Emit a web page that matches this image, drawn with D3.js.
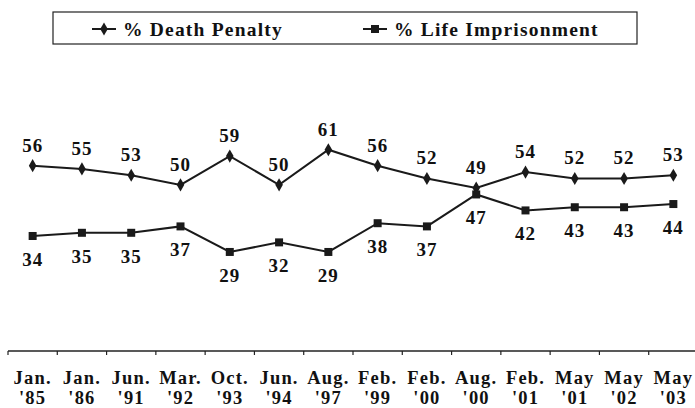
<!DOCTYPE html>
<html>
<head>
<meta charset="utf-8">
<script src="https://cdn.jsdelivr.net/npm/d3@7"></script>
<style>
  html, body { margin: 0; padding: 0; background: #fff; }
  svg { display: block; }
</style>
</head>
<body>
<script>
const categories = ["Jan.|'85","Jan.|'86","Jun.|'91","Mar.|'92","Oct.|'93","Jun.|'94","Aug.|'97","Feb.|'99","Feb.|'00","Aug.|'00","Feb.|'01","May|'01","May|'02","May|'03"];
const deathPenalty = [56,55,53,50,59,50,61,56,52,49,54,52,52,53];
const lifeImprisonment = [34,35,35,37,29,32,29,38,37,47,42,43,43,44];
const seriesNames = ["% Death Penalty", "% Life Imprisonment"];

const W = 695, H = 408;
const FONT = '"Liberation Serif"';
const svg = d3.select("body").append("svg").attr("width", W).attr("height", H);

function txt(sel, size, ls) {
  return sel.style("font-family", FONT).style("font-weight", "bold")
    .style("font-size", size + "px").style("letter-spacing", ls + "px").attr("fill", "#111");
}

const x = d3.scaleBand().domain(categories).range([8, 698]);
const y = d3.scaleLinear().domain([-2, 75]).range([351, 105]);
const cx = c => x(c) + x.bandwidth() / 2;

// x axis
const axisY = y.range()[0];
svg.append("line").attr("x1", 8).attr("x2", W).attr("y1", axisY).attr("y2", axisY)
  .attr("stroke", "#222").attr("stroke-width", 1.6);
const bounds = categories.map(c => x(c));
svg.selectAll(".tk").data(bounds).enter().append("line")
  .attr("x1", d => d).attr("x2", d => d)
  .attr("y1", axisY).attr("y2", axisY + 4)
  .attr("stroke", "#222").attr("stroke-width", 1.2);

// category labels
const lab = txt(svg.append("g").selectAll("text").data(categories).enter().append("text")
  .attr("text-anchor", "middle"), 18.5, 1.2);
lab.append("tspan").attr("x", d => cx(d)).attr("y", 384).text(d => d.split("|")[0]);
lab.append("tspan").attr("x", d => cx(d)).attr("y", 404).text(d => d.split("|")[1]);

const line = d3.line().x((d, i) => cx(categories[i])).y(d => y(d));

[deathPenalty, lifeImprisonment].forEach(s => {
  svg.append("path").datum(s).attr("d", line)
    .attr("fill", "none").attr("stroke", "#1a1a1a").attr("stroke-width", 2);
});

const diamond = d3.symbol().type(d3.symbolDiamond).size(50);
svg.selectAll(".dm").data(deathPenalty).enter().append("path")
  .attr("d", diamond)
  .attr("transform", (d, i) => `translate(${cx(categories[i])},${y(d)})`)
  .attr("fill", "#1a1a1a");
svg.selectAll(".sq").data(lifeImprisonment).enter().append("rect")
  .attr("x", (d, i) => cx(categories[i]) - 4).attr("y", d => y(d) - 4)
  .attr("width", 8).attr("height", 8).attr("fill", "#1a1a1a");

txt(svg.selectAll(".dl").data(deathPenalty).enter().append("text")
  .attr("x", (d, i) => cx(categories[i])).attr("y", d => y(d) - 14)
  .attr("text-anchor", "middle"), 19, 1).text(d => d);
txt(svg.selectAll(".ll").data(lifeImprisonment).enter().append("text")
  .attr("x", (d, i) => cx(categories[i])).attr("y", d => y(d) + 30)
  .attr("text-anchor", "middle"), 19, 1).text(d => d);

// legend
const lg = svg.append("g");
lg.append("rect").attr("x", 53).attr("y", 12).attr("width", 584).attr("height", 32)
  .attr("fill", "none").attr("stroke", "#222").attr("stroke-width", 1.2);
const legendItems = [
  { name: seriesNames[0], x0: 92, tx: 123, shape: "diamond" },
  { name: seriesNames[1], x0: 363, tx: 394, shape: "square" }
];
legendItems.forEach(it => {
  lg.append("line").attr("x1", it.x0).attr("x2", it.x0 + 24).attr("y1", 29).attr("y2", 29)
    .attr("stroke", "#1a1a1a").attr("stroke-width", 2);
  if (it.shape === "diamond") {
    lg.append("path").attr("d", diamond).attr("transform", `translate(${it.x0 + 12},29)`).attr("fill", "#1a1a1a");
  } else {
    lg.append("rect").attr("x", it.x0 + 8).attr("y", 25).attr("width", 8).attr("height", 8).attr("fill", "#1a1a1a");
  }
  txt(lg.append("text").attr("x", it.tx).attr("y", 36), 19.5, 1.2).text(it.name);
});
</script>
</body>
</html>
